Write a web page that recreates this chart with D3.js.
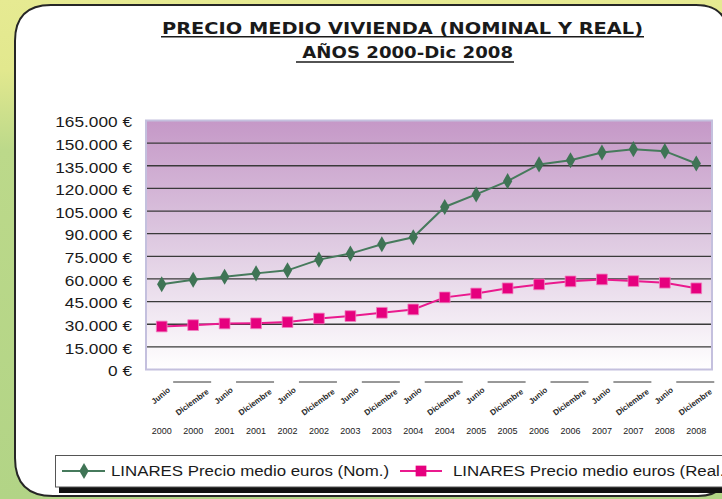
<!DOCTYPE html>
<html><head><meta charset="utf-8">
<script src="https://cdn.jsdelivr.net/npm/d3@7"></script>
<style>html,body{margin:0;padding:0;background:#fff;}svg{display:block;}</style>
</head><body>
<svg id="c" width="722" height="499"></svg>
<script>
const years = ["2000","2000","2001","2001","2002","2002","2003","2003","2004","2004","2005","2005","2006","2006","2007","2007","2008","2008"];
const periods = ["Junio","Diciembre","Junio","Diciembre","Junio","Diciembre","Junio","Diciembre","Junio","Diciembre","Junio","Diciembre","Junio","Diciembre","Junio","Diciembre","Junio","Diciembre"];
const nominal = [56500,59500,61500,63700,65700,72800,76800,83000,87600,107700,116000,124800,135900,138700,143800,146000,144700,136500];
const real = [28500,29400,30500,30600,31400,33800,35400,37600,39800,47800,50400,53800,56400,58400,59700,58600,57500,53800];
const yTicks = [0,15000,30000,45000,60000,75000,90000,105000,120000,135000,150000,165000];
const seriesNames = ["LINARES Precio medio euros (Nom.)","LINARES Precio medio euros (Real.)"];
const titleLines = ["PRECIO MEDIO VIVIENDA (NOMINAL Y REAL)"," AÑOS 2000-Dic 2008"];

const svg = d3.select("#c");
const defs = svg.append("defs");
const bg = defs.append("linearGradient").attr("id","bg").attr("x1",0).attr("y1",0).attr("x2",0).attr("y2",1);
bg.append("stop").attr("offset","0%").attr("stop-color","#e6ea92");
bg.append("stop").attr("offset","14%").attr("stop-color","#e2e88e");
bg.append("stop").attr("offset","30%").attr("stop-color","#bcd98a");
bg.append("stop").attr("offset","100%").attr("stop-color","#b2d486");
const pg = defs.append("linearGradient").attr("id","pg").attr("x1",0).attr("y1",0).attr("x2",0).attr("y2",1);
pg.append("stop").attr("offset","0%").attr("stop-color","#c598c7");
pg.append("stop").attr("offset","45%").attr("stop-color","#dcc6df");
pg.append("stop").attr("offset","100%").attr("stop-color","#ffffff");

svg.append("rect").attr("width",722).attr("height",499).attr("fill","url(#bg)");

// white rounded panel
const L=15,T=5,R=728,B=496;
const p = d3.path();
p.moveTo(L+36,T); p.lineTo(R-32,T); p.quadraticCurveTo(R,T,R,T+32);
p.lineTo(R,B-30); p.quadraticCurveTo(R,B,R-30,B);
p.lineTo(L+38,B); p.quadraticCurveTo(L,B,L,B-38);
p.lineTo(L,T+36); p.quadraticCurveTo(L,T,L+36,T); p.closePath();
svg.append("path").attr("d",p.toString()).attr("fill","#fff").attr("stroke","#262626").attr("stroke-width",2);

// title
const title = svg.append("g").attr("font-family","'DejaVu Sans', sans-serif").attr("font-weight","bold").attr("font-size",15).attr("fill","#1a1a1a");
title.append("text").attr("x",162).attr("y",33.5).attr("textLength",481).attr("lengthAdjust","spacingAndGlyphs").text(titleLines[0]);
title.append("text").attr("x",296).attr("y",58).attr("textLength",217).attr("lengthAdjust","spacingAndGlyphs").attr("xml:space","preserve").text(titleLines[1]);
svg.append("line").attr("x1",161).attr("x2",644).attr("y1",36.8).attr("y2",36.8).attr("stroke","#1a1a1a").attr("stroke-width",1.6);
svg.append("line").attr("x1",296).attr("x2",514).attr("y1",62).attr("y2",62).attr("stroke","#1a1a1a").attr("stroke-width",1.6);

// scales
const x = d3.scaleBand().domain(d3.range(years.length)).range([146,712]);
const y = d3.scaleLinear().domain([0,165000]).range([369.5,120.5]);
const cx = i => x(i) + x.bandwidth()/2;

// plot area
svg.append("rect").attr("x",146).attr("y",120.5).attr("width",566).attr("height",249).attr("fill","url(#pg)").attr("stroke","#c4c0de").attr("stroke-width",2);

// gridlines
svg.append("g").selectAll("line").data(yTicks.filter(v=>v>0&&v<165000)).join("line")
  .attr("x1",147).attr("x2",711).attr("y1",d=>y(d)).attr("y2",d=>y(d))
  .attr("stroke","#3a3a3a").attr("stroke-width",1.3);

// y axis labels
const yAxis = d3.axisLeft(y).tickValues(yTicks).tickSize(0).tickPadding(0)
  .tickFormat(d => d3.format(",")(d).replace(/,/g,".") + " €");
const yg = svg.append("g").attr("transform","translate(132,1.5)").call(yAxis);
yg.select(".domain").remove();
yg.selectAll("text").attr("font-family","'Liberation Sans', Arial, sans-serif").attr("font-size",15).attr("fill","#1a1a1a")
  .each(function(){ const w=this.getComputedTextLength(); d3.select(this).attr("textLength",w*1.15).attr("lengthAdjust","spacingAndGlyphs"); });

// x axis: rotated period labels, group lines, years
const xg = svg.append("g").attr("font-family","'Liberation Sans', Arial, sans-serif");
xg.selectAll("text.per").data(periods).join("text").attr("class","per")
  .attr("transform",(d,i)=> d==="Junio" ? `translate(${cx(i)-1},395.5) rotate(-40)` : `translate(${cx(i)-1},402) rotate(-36)`)
  .attr("text-anchor","middle").attr("dy","0.35em").attr("font-size",8).attr("font-weight","bold").attr("fill","#2a2a2a")
  .text(d=>d);
xg.selectAll("line.grp").data(periods.map((d,i)=>i).filter(i=>periods[i]==="Diciembre")).join("line").attr("class","grp")
  .attr("x1",i=>cx(i)-20).attr("x2",i=>cx(i)+18).attr("y1",382).attr("y2",382).attr("stroke","#333").attr("stroke-width",1);
xg.selectAll("text.yr").data(years).join("text").attr("class","yr")
  .attr("x",(d,i)=>cx(i)).attr("y",434).attr("text-anchor","middle").attr("font-size",9).attr("fill","#1a1a1a").text(d=>d);

// lines
const line = d3.line().x((d,i)=>cx(i)).y(d=>y(d));
svg.append("path").datum(real).attr("d",line).attr("fill","none").attr("stroke","#ea1a8e").attr("stroke-width",2);
svg.append("path").datum(nominal).attr("d",line).attr("fill","none").attr("stroke","#467a5c").attr("stroke-width",2);
const sq = d3.symbol().type(d3.symbolSquare).size(115);
const dm = d3.symbol().type(d3.symbolDiamond).size(75);
svg.append("g").selectAll("path").data(real).join("path").attr("d",sq)
  .attr("transform",(d,i)=>`translate(${cx(i)},${y(d)})`).attr("fill","#e6007e").attr("stroke","#f080c0").attr("stroke-width",0.8);
svg.append("g").selectAll("path").data(nominal).join("path").attr("d",dm)
  .attr("transform",(d,i)=>`translate(${cx(i)},${y(d)})`).attr("fill","#3f7455");

// legend
svg.append("rect").attr("x",59).attr("y",487).attr("width",680).attr("height",6).attr("fill","#111");
svg.append("rect").attr("x",55.5).attr("y",455.5).attr("width",690).attr("height",31.5).attr("fill","#fff").attr("stroke","#555").attr("stroke-width",1);
const lg = svg.append("g").attr("font-family","'Liberation Sans', Arial, sans-serif").attr("font-size",14).attr("fill","#1a1a1a");
lg.append("line").attr("x1",62).attr("x2",105).attr("y1",471).attr("y2",471).attr("stroke","#467a5c").attr("stroke-width",2);
lg.append("path").attr("d",dm).attr("transform","translate(84,471)").attr("fill","#3f7455");
lg.append("line").attr("x1",400).attr("x2",442).attr("y1",471).attr("y2",471).attr("stroke","#ea1a8e").attr("stroke-width",2);
lg.append("path").attr("d",sq).attr("transform","translate(421,471)").attr("fill","#e6007e");
const t1 = lg.append("text").attr("x",111).attr("y",476).text(seriesNames[0]);
const t2 = lg.append("text").attr("x",453).attr("y",476).text(seriesNames[1]);
const k = 278 / t1.node().getComputedTextLength();
t1.attr("textLength",278).attr("lengthAdjust","spacingAndGlyphs");
t2.attr("textLength",t2.node().getComputedTextLength()*k).attr("lengthAdjust","spacingAndGlyphs");
</script>
</body></html>
